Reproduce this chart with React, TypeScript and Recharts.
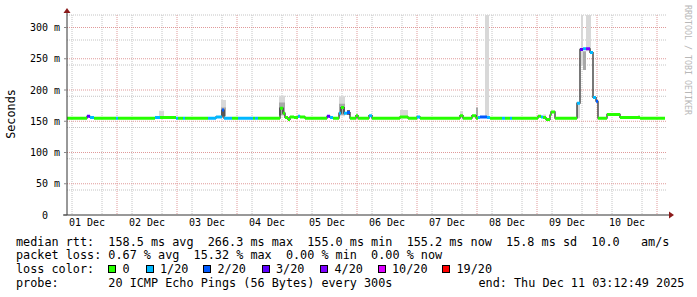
import React from 'react';
import { ComposedChart, Line, Area, XAxis, YAxis, CartesianGrid } from 'recharts';

// median rtt, one entry per step; time = hours since 01 Dec 00:00
const segStart = [
  4.0, 12.0, 13.2, 14.8, 23.6, 24.4, 39.2, 41.2, 47.6, 48.4, 50.4, 51.2,
  60.4, 63.6, 66.0, 66.8, 70.0, 72.4, 78.4, 79.2, 80.4, 89.2, 90.4, 91.2,
  92.4, 93.2, 94.8, 96.4, 97.2, 99.2, 108.0, 109.2, 110.4, 112.8, 113.6, 114.8,
  116.0, 117.2, 119.6, 120.4, 124.8, 126.0, 137.2, 140.4, 144.0, 145.2, 161.2, 162.4,
  166.0, 167.6, 168.4, 169.2, 172.0, 173.2, 178.0, 179.2, 181.2, 182.0, 192.4, 193.6,
  194.4, 195.6, 197.2, 197.6, 199.2, 208.0, 209.2, 210.4, 211.6, 213.2, 214.4, 215.6,
  216.4, 220.0, 225.2, 233.2,
];
const segMedian = [
  155, 158, 156, 155, 155, 155, 156, 156, 155, 155, 155, 155,
  155, 157, 168, 155, 155, 155, 155, 155, 155, 171, 163, 156,
  153, 157, 156, 158, 157, 155, 158, 156, 155, 163, 172, 163,
  164, 155, 159, 155, 159, 155, 157, 155, 157, 155, 159, 155,
  159, 155, 156, 157, 156, 155, 155, 155, 155, 155, 158, 157,
  156, 153, 160, 165, 155, 179, 265, 266, 266, 260, 188, 182,
  155, 161, 156, 155,
];
const segLoss = [
  0, 3, 1, 0, 1, 0, 1, 0, 1, 0, 1, 0,
  1, 1, 2, 1, 0, 1, 0, 1, 0, 0, 0, 0,
  0, 0, 0, 1, 0, 0, 3, 1, 0, 1, 0, 1,
  2, 0, 0, 0, 1, 0, 0, 0, 1, 0, 0, 0,
  0, 0, 1, 2, 1, 0, 1, 0, 1, 0, 0, 1,
  0, 0, 0, 0, 0, 1, 3, 1, 4, 1, 1, 2,
  0, 0, 0, 0,
];
const lastHour = 243.2;

// smoke (spread of the 20 pings)
const smokeFrom = [40.8, 65.6, 65.6, 88.8, 88.8, 112.8, 112.8, 116.0, 137.2, 161.2, 167.6, 171.2, 194.4, 208.0, 209.6, 210.4, 211.6, 232.4];
const smokeTo = [42.8, 67.6, 67.6, 91.2, 91.2, 115.2, 115.2, 117.2, 140.4, 162.4, 168.4, 172.8, 195.6, 209.2, 210.4, 211.6, 213.6, 233.2];
const smokeLow = [155, 158, 158, 158, 160, 158, 160, 160, 155, 155, 155, 157, 155, 155, 240, 232, 262, 155];
const smokeHigh = [167, 184, 172, 191, 180, 190, 178, 168, 168, 166, 172, 320, 161, 179, 320, 262, 320, 160];
const smokeShade = [0, 0, 1, 0, 1, 0, 1, 2, 0, 0, 1, 0, 0, 0, 0, 1, 0, 0];
const smokeColors = ['#d8d8d8', '#a8a8a8', '#707070'];

const lossSteps = [0, 1, 2, 3, 4, 10, 19];
const lossLabels = ['0', '1/20', '2/20', '3/20', '4/20', '10/20', '19/20'];
const lossColors = ['#26ff00', '#00b8ff', '#0059ff', '#5e00ff', '#7e00ff', '#dd00ff', '#ff0000'];

const dayTicks = [12, 36, 60, 84, 108, 132, 156, 180, 204, 228];
const dayLabels = ['01 Dec', '02 Dec', '03 Dec', '04 Dec', '05 Dec', '06 Dec', '07 Dec', '08 Dec', '09 Dec', '10 Dec'];
const dayLines = [24, 48, 72, 96, 120, 144, 168, 192, 216, 240];
const quarterLines = [
  6, 12, 18, 30, 36, 42, 54, 60, 66, 78, 84, 90, 102, 108, 114, 126, 132, 138,
  150, 156, 162, 174, 180, 186, 198, 204, 210, 222, 228, 234,
];
const msTicks = [0, 50, 100, 150, 200, 250, 300];
const msMajor = [50, 100, 150, 200, 250, 300];
const msMinor = [10, 20, 30, 40, 60, 70, 80, 90, 110, 120, 130, 140, 160, 170, 180, 190, 210, 220, 230, 240, 260, 270, 280, 290, 310, 320];

const mono = "'DejaVu Sans Mono', monospace";

const segEnd = (i: number) => (i + 1 < segStart.length ? segStart[i + 1] : lastHour);

const medianPath = segStart.flatMap((t, i) => [
  { t, v: segMedian[i] },
  { t: segEnd(i), v: segMedian[i] },
]);

const lossPaths = lossSteps.map((step) =>
  segStart.flatMap((t, i) =>
    segLoss[i] === step
      ? [
          { t, v: segMedian[i] },
          { t: segEnd(i), v: segMedian[i] },
          { t: segEnd(i), v: null },
        ]
      : []
  )
);

const smokePaths = smokeColors.map((_, s) =>
  smokeFrom.flatMap((t, i) =>
    smokeShade[i] === s
      ? [
          { t, r: [smokeLow[i], smokeHigh[i]] },
          { t: smokeTo[i], r: [smokeLow[i], smokeHigh[i]] },
          { t: smokeTo[i], r: null },
        ]
      : []
  )
);

const YTick = (props: any) => {
  const { x, y, payload } = props;
  const v = payload.value;
  const label = v === 0 ? '0' : `${v} m`;
  return (
    <text x={v === 0 ? x - 12 : x} y={y} dy="0.35em" textAnchor="end" fontFamily={mono} fontSize={10} fill="#000">
      {label}
    </text>
  );
};

const XTick = (props: any) => {
  const { x, y, payload } = props;
  const idx = dayTicks.indexOf(payload.value);
  return (
    <text x={x} y={y} dy="0.71em" textAnchor="middle" fontFamily={mono} fontSize={10} fill="#000">
      {dayLabels[idx]}
    </text>
  );
};

const Legend = () => {
  const swatchLeft = [108, 145.5, 203, 261.5, 320, 377.5, 442];
  const textStyle: React.CSSProperties = {
    position: 'absolute',
    fontFamily: mono,
    fontSize: '11.8px',
    lineHeight: '14px',
    whiteSpace: 'pre',
    color: '#000',
  };
  return (
    <>
      <div style={{ ...textStyle, left: 16, top: 234.5 }}>
        {'median rtt:  158.5 ms avg  266.3 ms max  155.0 ms min  155.2 ms now  15.8 ms sd  10.0   am/s'}
      </div>
      <div style={{ ...textStyle, left: 16, top: 248 }}>
        {'packet loss: 0.67 % avg  15.32 % max  0.00 % min  0.00 % now'}
      </div>
      <div style={{ ...textStyle, left: 16, top: 262 }}>{'loss color:'}</div>
      {lossLabels.map((lab, i) => (
        <React.Fragment key={lab}>
          <div
            style={{
              position: 'absolute',
              left: swatchLeft[i],
              top: 265,
              width: 6,
              height: 6,
              background: lossColors[i],
              border: '1px solid #000',
            }}
          />
          <div style={{ ...textStyle, left: swatchLeft[i] + 14.5, top: 262 }}>{lab}</div>
        </React.Fragment>
      ))}
      <div style={{ ...textStyle, left: 16, top: 276 }}>
        {'probe:       20 ICMP Echo Pings (56 Bytes) every 300s'}
      </div>
      <div style={{ ...textStyle, left: 478.5, top: 276 }}>{'end: Thu Dec 11 03:12:49 2025'}</div>
    </>
  );
};

export default function App() {
  return (
    <div style={{ position: 'absolute', left: 0, top: 0, width: 697, height: 297, background: '#fff', overflow: 'hidden' }}>
      <ComposedChart width={697} height={297} margin={{ top: 15, right: 30, bottom: 62, left: 7 }}>
        <CartesianGrid
          horizontalValues={msMinor}
          verticalValues={quarterLines}
          stroke="#c4c4c4"
          strokeDasharray="1 1"
        />
        <CartesianGrid
          horizontalValues={msMajor}
          verticalValues={dayLines}
          stroke="#e09a9a"
          strokeDasharray="1 1"
        />
        <XAxis
          dataKey="t"
          type="number"
          domain={[4, 244]}
          ticks={dayTicks}
          allowDataOverflow
          height={20}
          tickLine={false}
          tickSize={0}
          tickMargin={4}
          axisLine={{ stroke: '#333' }}
          tick={<XTick />}
        />
        <YAxis
          type="number"
          domain={[0, 320]}
          ticks={msTicks}
          allowDataOverflow
          width={60}
          tickSize={3}
          tickMargin={4}
          tickLine={{ stroke: '#888' }}
          axisLine={{ stroke: '#333' }}
          tick={<YTick />}
        />
        {smokePaths.map((d, s) => (
          <Area
            key={`smoke${s}`}
            data={d}
            dataKey="r"
            type="linear"
            fill={smokeColors[s]}
            fillOpacity={1}
            stroke="none"
            dot={false}
            activeDot={false}
            isAnimationActive={false}
          />
        ))}
        <Line
          data={medianPath}
          dataKey="v"
          type="linear"
          stroke="#202020"
          strokeWidth={1.2}
          dot={false}
          activeDot={false}
          isAnimationActive={false}
        />
        {lossPaths.map((d, i) => (
          <Line
            key={`loss${i}`}
            data={d}
            dataKey="v"
            type="linear"
            stroke={lossColors[i]}
            strokeWidth={3}
            dot={false}
            activeDot={false}
            isAnimationActive={false}
          />
        ))}
      </ComposedChart>
      <svg width={697} height={297} style={{ position: 'absolute', left: 0, top: 0, pointerEvents: 'none' }}>
        <line x1={67} y1={11} x2={67} y2={15} stroke="#333" />
        <line x1={63} y1={215} x2={67} y2={215} stroke="#333" />
        <line x1={667} y1={215} x2={670} y2={215} stroke="#333" />
        <polygon points="67,8 63.5,13 70.5,13" fill="#8b1a1a" />
        <polygon points="674,215 669,211.5 669,218.5" fill="#8b1a1a" />
        <text x={15} y={114} transform="rotate(-90 15 114)" textAnchor="middle" fontFamily={mono} fontSize={11.8} fill="#000">
          Seconds
        </text>
        <text x={685} y={5} transform="rotate(90 685 5)" fontFamily={mono} fontSize={8.3} fill="#b8b8b8">
          RRDTOOL / TOBI OETIKER
        </text>
      </svg>
      <Legend />
    </div>
  );
}
